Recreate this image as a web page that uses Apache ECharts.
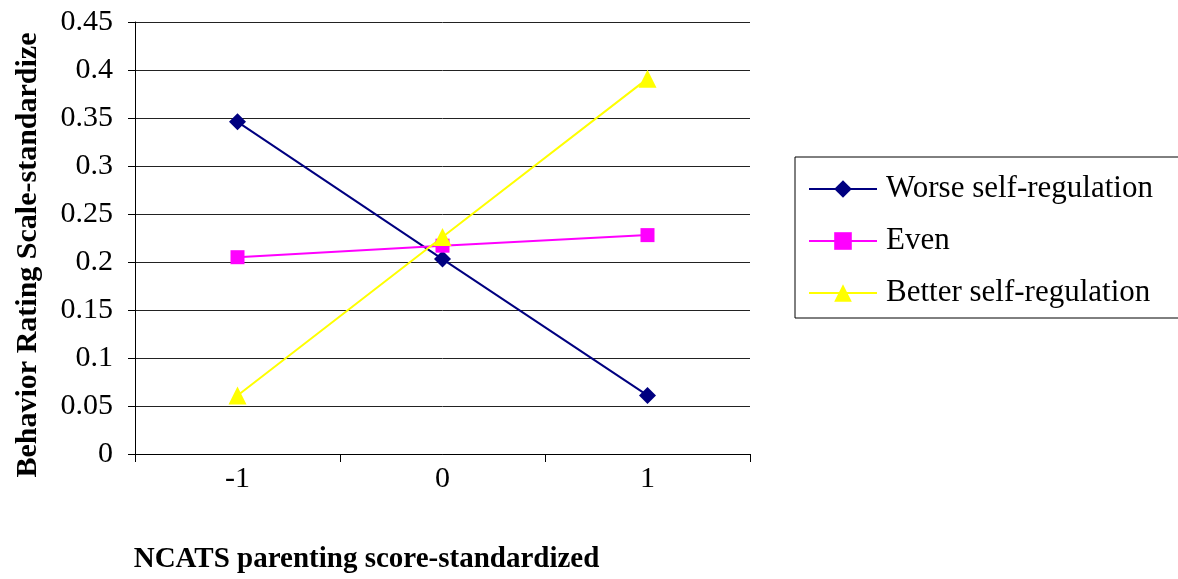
<!DOCTYPE html>
<html>
<head>
<meta charset="utf-8">
<script src="https://cdn.jsdelivr.net/npm/echarts@6/dist/echarts.min.js"></script>
<style>
  html, body { margin: 0; padding: 0; background: #fff; }
  #chart { width: 1178px; height: 579px; }
</style>
</head>
<body>
<div id="chart"></div>
<script>
// x categories (NCATS parenting score, standardized)
var categories = ['-1', '0', '1'];
// series values
var worse = [0.346, 0.203, 0.061];
var even = [0.205, 0.217, 0.228];
var better = [0.061, 0.226, 0.391];

var serif = '"Liberation Serif", "Times New Roman", serif';

var myChart = echarts.init(document.getElementById('chart'));
var option = {
  animation: false,
  grid: { left: 135, right: 428, top: 22, bottom: 122 },
  legend: {
    orient: 'vertical',
    left: 795,
    top: 157,
    padding: [15, 60, 8, 13],
    borderColor: '#000',
    borderWidth: 1,
    itemWidth: 68,
    itemHeight: 22,
    itemGap: 18,
    textStyle: { fontFamily: serif, fontSize: 31, color: '#000', lineHeight: 34, padding: [0, 0, 0, 4] },
    data: ['Worse self-regulation', 'Even', 'Better self-regulation']
  },
  xAxis: {
    type: 'category',
    data: categories,
    boundaryGap: true,
    name: 'NCATS parenting score-standardized',
    nameLocation: 'middle',
    nameGap: 91,
    nameTextStyle: { fontFamily: serif, fontSize: 29, fontWeight: 'bold', color: '#000', padding: [0, 152, 0, 0] },
    axisLine: { lineStyle: { color: '#000', width: 1 } },
    axisTick: { show: true, length: 8, lineStyle: { color: '#000' } },
    axisLabel: { fontFamily: serif, fontSize: 30, color: '#000', margin: 10 },
    splitLine: { show: false }
  },
  yAxis: {
    type: 'value',
    min: 0,
    max: 0.45,
    interval: 0.05,
    name: 'Behavior Rating Scale-standardize',
    nameLocation: 'middle',
    nameGap: 92,
    nameRotate: 90,
    nameTextStyle: { fontFamily: serif, fontSize: 30, fontWeight: 'bold', color: '#000', padding: [0, 34, 0, 0] },
    axisLine: { show: true, lineStyle: { color: '#000', width: 1 } },
    axisTick: { show: true, length: 7, lineStyle: { color: '#000' } },
    axisLabel: { fontFamily: serif, fontSize: 30, color: '#000', margin: 22 },
    splitLine: { show: true, lineStyle: { color: '#222', width: 1 } }
  },
  series: [
    {
      name: 'Worse self-regulation',
      type: 'line',
      data: worse,
      symbol: 'diamond',
      symbolSize: 17,
      itemStyle: { color: '#000080' },
      lineStyle: { color: '#000080', width: 2 }
    },
    {
      name: 'Even',
      type: 'line',
      data: even,
      symbol: 'rect',
      symbolSize: 14,
      itemStyle: { color: '#FF00FF' },
      lineStyle: { color: '#FF00FF', width: 2 }
    },
    {
      name: 'Better self-regulation',
      type: 'line',
      data: better,
      symbol: 'triangle',
      symbolSize: 18,
      itemStyle: { color: '#FFFF00' },
      lineStyle: { color: '#FFFF00', width: 2 }
    }
  ]
};
myChart.setOption(option);
</script>
</body>
</html>
